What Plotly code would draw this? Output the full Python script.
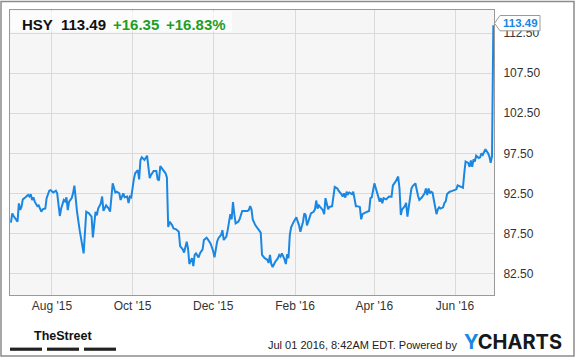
import plotly.graph_objects as go

# ---- data ----
dates = [
    "2015-07-01", "2015-07-02", "2015-07-03", "2015-07-06", "2015-07-07", "2015-07-08", "2015-07-09", "2015-07-10",
    "2015-07-12", "2015-07-14", "2015-07-15", "2015-07-16", "2015-07-17", "2015-07-18", "2015-07-19", "2015-07-20",
    "2015-07-21", "2015-07-22", "2015-07-24", "2015-07-25", "2015-07-27", "2015-07-28", "2015-07-30", "2015-07-31",
    "2015-08-02", "2015-08-04", "2015-08-05", "2015-08-07", "2015-08-08", "2015-08-10", "2015-08-11", "2015-08-12",
    "2015-08-13", "2015-08-14", "2015-08-16", "2015-08-17", "2015-08-18", "2015-08-19", "2015-08-20", "2015-08-22",
    "2015-08-25", "2015-08-27", "2015-08-29", "2015-08-31", "2015-09-01", "2015-09-03", "2015-09-04", "2015-09-05",
    "2015-09-07", "2015-09-08", "2015-09-09", "2015-09-11", "2015-09-13", "2015-09-14", "2015-09-16", "2015-09-18",
    "2015-09-19", "2015-09-21", "2015-09-22", "2015-09-24", "2015-09-25", "2015-09-27", "2015-09-28", "2015-09-29",
    "2015-09-30", "2015-10-02", "2015-10-03", "2015-10-05", "2015-10-06", "2015-10-07", "2015-10-08", "2015-10-10",
    "2015-10-11", "2015-10-12", "2015-10-14", "2015-10-15", "2015-10-17", "2015-10-19", "2015-10-20", "2015-10-21",
    "2015-10-22", "2015-10-24", "2015-10-26", "2015-10-27", "2015-10-28", "2015-10-29", "2015-10-31", "2015-11-01",
    "2015-11-03", "2015-11-05", "2015-11-06", "2015-11-08", "2015-11-09", "2015-11-11", "2015-11-12", "2015-11-13",
    "2015-11-15", "2015-11-16", "2015-11-17", "2015-11-18", "2015-11-20", "2015-11-21", "2015-11-23", "2015-11-24",
    "2015-11-26", "2015-11-27", "2015-11-29", "2015-12-01", "2015-12-02", "2015-12-04", "2015-12-05", "2015-12-07",
    "2015-12-08", "2015-12-09", "2015-12-11", "2015-12-12", "2015-12-14", "2015-12-15", "2015-12-16", "2015-12-17",
    "2015-12-18", "2015-12-20", "2015-12-21", "2015-12-23", "2015-12-25", "2015-12-27", "2015-12-28", "2015-12-29",
    "2015-12-30", "2015-12-31", "2016-01-02", "2016-01-04", "2016-01-06", "2016-01-07", "2016-01-09", "2016-01-11",
    "2016-01-12", "2016-01-13", "2016-01-14", "2016-01-15", "2016-01-16", "2016-01-17", "2016-01-19", "2016-01-20",
    "2016-01-21", "2016-01-22", "2016-01-24", "2016-01-25", "2016-01-26", "2016-01-27", "2016-01-28", "2016-01-29",
    "2016-01-31", "2016-02-02", "2016-02-03", "2016-02-04", "2016-02-05", "2016-02-07", "2016-02-08", "2016-02-09",
    "2016-02-10", "2016-02-12", "2016-02-13", "2016-02-15", "2016-02-16", "2016-02-17", "2016-02-18", "2016-02-19",
    "2016-02-21", "2016-02-22", "2016-02-23", "2016-02-24", "2016-02-26", "2016-02-27", "2016-02-29", "2016-03-01",
    "2016-03-02", "2016-03-04", "2016-03-05", "2016-03-07", "2016-03-08", "2016-03-09", "2016-03-10", "2016-03-11",
    "2016-03-12", "2016-03-13", "2016-03-15", "2016-03-16", "2016-03-18", "2016-03-19", "2016-03-21", "2016-03-22",
    "2016-03-23", "2016-03-25", "2016-03-27", "2016-03-28", "2016-03-29", "2016-03-30", "2016-04-01", "2016-04-02",
    "2016-04-03", "2016-04-05", "2016-04-06", "2016-04-07", "2016-04-08", "2016-04-10", "2016-04-12", "2016-04-14",
    "2016-04-15", "2016-04-17", "2016-04-19", "2016-04-20", "2016-04-21", "2016-04-22", "2016-04-24", "2016-04-25",
    "2016-04-26", "2016-04-27", "2016-04-29", "2016-04-30", "2016-05-02", "2016-05-04", "2016-05-05", "2016-05-07",
    "2016-05-09", "2016-05-10", "2016-05-11", "2016-05-12", "2016-05-13", "2016-05-14", "2016-05-15", "2016-05-16",
    "2016-05-18", "2016-05-19", "2016-05-20", "2016-05-21", "2016-05-23", "2016-05-24", "2016-05-25", "2016-05-26",
    "2016-05-28", "2016-05-30", "2016-05-31", "2016-06-02", "2016-06-03", "2016-06-04", "2016-06-06", "2016-06-07",
    "2016-06-08", "2016-06-09", "2016-06-11", "2016-06-12", "2016-06-13", "2016-06-14", "2016-06-15", "2016-06-16",
    "2016-06-17", "2016-06-19", "2016-06-20", "2016-06-21", "2016-06-22", "2016-06-23", "2016-06-24", "2016-06-26",
    "2016-06-27", "2016-06-28", "2016-06-29", "2016-06-30",
]
prices = [
    88.83, 90.0, 89.67, 88.96, 91.25, 90.42, 90.83, 91.75,
    92.0, 92.3, 92.1, 92.4, 91.67, 92.0, 91.46, 91.25,
    90.9, 91.0, 90.2, 90.5, 90.6, 91.9, 92.83, 92.9,
    92.6, 92.83, 92.5, 89.67, 90.6, 91.67, 91.5, 92.0,
    90.4, 91.46, 91.9, 92.5, 93.46, 91.9, 90.2, 87.9,
    85.0, 90.2, 90.0, 89.6, 87.0, 90.2, 89.75, 90.6,
    91.25, 92.1, 90.3, 91.0, 90.6, 90.2, 93.75, 92.6,
    92.7, 92.5, 91.67, 92.5, 92.0, 92.1, 91.3, 92.1,
    92.0, 94.25, 95.0, 95.4, 94.25, 96.67, 97.0, 96.67,
    97.0, 97.2, 94.4, 94.8, 95.3, 95.3, 94.25, 94.1,
    95.9, 95.5, 95.0, 94.5, 88.3, 88.96, 88.5, 88.1,
    88.0, 87.7, 85.9, 85.5, 85.1, 86.46, 85.6, 83.67,
    84.4, 83.4, 84.8, 85.0, 84.5, 85.0, 85.5, 86.67,
    86.96, 86.75, 86.25, 85.3, 84.5, 86.46, 86.9, 87.3,
    87.9, 86.67, 87.1, 87.9, 89.9, 89.25, 91.4, 89.9,
    88.75, 88.96, 89.25, 90.3, 90.3, 90.3, 90.4, 90.9,
    90.5, 89.2, 88.5, 88.0, 87.6, 84.8, 84.4, 84.2,
    83.8, 84.8, 83.67, 83.3, 83.75, 83.96, 84.4, 84.8,
    84.6, 85.0, 84.25, 83.67, 84.9, 84.4, 87.3, 88.25,
    88.96, 89.5, 88.96, 88.5, 87.7, 88.96, 90.0, 89.8,
    88.5, 89.6, 90.0, 90.2, 90.5, 91.6, 90.6, 91.0,
    90.6, 90.4, 89.9, 91.9, 90.5, 90.8, 90.9, 92.1,
    93.3, 93.1, 92.8, 92.4, 92.1, 92.5, 91.96, 92.7,
    92.4, 92.6, 92.4, 92.7, 90.9, 90.9, 90.8, 89.25,
    89.9, 90.1, 90.2, 90.3, 91.9, 92.0, 93.75, 93.1,
    92.6, 91.46, 91.9, 91.25, 91.9, 91.75, 92.1, 92.08,
    93.5, 93.96, 94.6, 93.1, 89.8, 90.5, 90.9, 91.3,
    89.6, 91.0, 93.1, 93.4, 93.75, 92.2, 91.67, 92.0,
    92.5, 93.1, 92.3, 93.1, 92.5, 92.7, 92.6, 91.67,
    89.9, 90.5, 90.75, 90.6, 90.75, 91.3, 91.5, 92.4,
    92.7, 92.8, 92.9, 93.0, 93.5, 93.4, 93.3, 93.2,
    95.0, 96.46, 96.3, 95.8, 96.6, 95.8, 96.75, 96.46,
    97.2, 96.9, 97.0, 97.5, 97.3, 97.6, 98.0, 97.5,
    97.1, 96.3, 97.14, 113.49,
]
y_ticks = [82.5, 87.5, 92.5, 97.5, 102.5, 107.5, 112.5]
ticker = "HSY"
last_price = "113.49"
change = "+16.35"
change_pct = "+16.83%"
timestamp_text = "Jul 01 2016, 8:42AM EDT. Powered by"

# ---- layout geometry (pixels) ----
W, H = 575, 358
L, R, T, B = 10, 81, 10, 63
PW, PH = W - L - R, H - T - B


def px(x):
    return (x - L) / PW


def py(y):
    return (H - B - y) / PH


FONT = "Liberation Sans, Arial, sans-serif"
BLUE = "#1a87e2"
GREEN = "#1f9e1f"

fig = go.Figure()
fig.add_trace(go.Scatter(x=dates, y=prices, mode="lines",
                         line=dict(color=BLUE, width=2), hoverinfo="skip"))

fig.update_layout(
    width=W, height=H,
    margin=dict(l=L, r=R, t=T, b=B, pad=0),
    paper_bgcolor="white", plot_bgcolor="#f6f6f6",
    showlegend=False,
    font=dict(family=FONT, size=12, color="#333"),
    xaxis=dict(
        type="date",
        range=["2015-06-30 07:00", "2016-06-30 12:00"],
        tick0="2015-08-01", dtick="M2", tickformat="%b '%y",
        showgrid=True, gridcolor="#dadada", gridwidth=1,
        showline=True, linecolor="#9a9a9a", linewidth=1, mirror=True,
        ticks="", zeroline=False,
        tickfont=dict(family=FONT, size=12, color="#333"),
    ),
    yaxis=dict(
        side="right",
        range=[79.8, 115.4],
        tickvals=y_ticks, tickformat=".2f",
        showgrid=True, gridcolor="#dadada", gridwidth=1,
        showline=True, linecolor="#9a9a9a", linewidth=1, mirror=True,
        ticks="", ticklabelstandoff=6, zeroline=False,
        tickfont=dict(family=FONT, size=12, color="#333"),
    ),
)

shapes = []
# header box (semi-transparent)
shapes.append(dict(type="rect", xref="paper", yref="paper", layer="above",
                   x0=px(11), x1=px(232), y0=py(31.5), y1=py(11),
                   fillcolor="rgba(255,255,255,0.65)", line=dict(width=0)))
# last price callout box with pointer
p = "M {a},{b} L {c},{d} L {e},{f} L {g},{h} L {i},{j} Z".format(
    a=px(500), b=py(15.5), c=px(494.5), d=py(23.3), e=px(500), f=py(30.8),
    g=px(540), h=py(30.8), i=px(540), j=py(15.5))
shapes.append(dict(type="path", xref="paper", yref="paper", layer="above",
                   path=p, fillcolor="white", line=dict(color="#9a9a9a", width=1)))
# outer frame
shapes.append(dict(type="rect", xref="paper", yref="paper", layer="above",
                   x0=px(1), x1=px(574), y0=py(356), y1=py(1.5),
                   fillcolor="rgba(0,0,0,0)", line=dict(color="#8c8c8c", width=1.5)))
# TheStreet bars
for x0, x1 in [(10, 42), (47, 79), (84, 116)]:
    shapes.append(dict(type="rect", xref="paper", yref="paper", layer="above",
                       x0=px(x0), x1=px(x1), y0=py(350.8), y1=py(347.6),
                       fillcolor="#222", line=dict(width=0)))
fig.update_layout(shapes=shapes)

ann = []


def text(x, y, s, size, color, bold=False, anchor="left", family=FONT):
    ann.append(dict(xref="paper", yref="paper", x=px(x), y=py(y), text=("<b>%s</b>" % s) if bold else s,
                    showarrow=False, xanchor=anchor, yanchor="middle",
                    font=dict(family=family, size=size, color=color)))


text(20, 24, ticker, 15, "#111", bold=True)
text(59, 24, last_price, 15, "#111", bold=True)
text(111, 24, change, 15, GREEN, bold=True)
text(164, 24, change_pct, 15, GREEN, bold=True)
text(520, 23.3, last_price, 11.5, BLUE, bold=True, anchor="center")
text(459, 344.5, timestamp_text, 11, "#222", anchor="right")
text(63, 336, "TheStreet", 12.5, "#111", bold=True, anchor="center")
ann.append(dict(xref="paper", yref="paper", x=px(462), y=py(341.5), xanchor="left", yanchor="middle",
                showarrow=False, text="<b><span style='color:%s'>Y</span>CHARTS</b>" % BLUE,
                font=dict(family="Inter, Lato, sans-serif", size=20, color="#15181c")))
fig.update_layout(annotations=ann)

fig.write_html("out.html")
